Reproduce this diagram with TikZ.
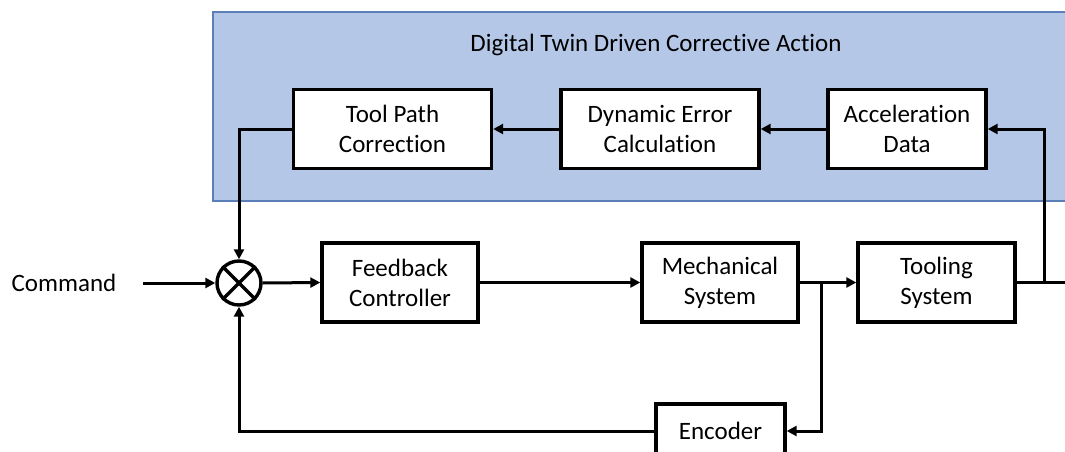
\documentclass[tikz,border=0pt]{standalone}
\usepackage{fontspec}
\setmainfont{Carlito}[Ligatures=NoCommon]
\usetikzlibrary{arrows.meta}
\definecolor{panelfill}{HTML}{B4C7E7}
\definecolor{paneledge}{HTML}{5B7FB8}
\begin{document}
\begin{tikzpicture}[x=1pt,y=-1pt,
  blk/.style={draw=black,line width=3.4pt,fill=white,inner sep=0pt,align=center,
    font=\fontsize{25}{30}\selectfont},
  conn/.style={line width=3pt},
  arr/.style={conn,-{Triangle[length=10pt,width=10pt]}},
  lbl/.style={font=\fontsize{25}{30}\selectfont,inner sep=0pt}]
\useasboundingbox (0,0) rectangle (1065,452);
\clip (0,0) rectangle (1065,452);

% corrective-action panel
\fill[panelfill,draw=paneledge,line width=1.2pt] (213,12) rectangle (1080,201);
\node[lbl] (title) at (656,45) {Digital Twin Driven Corrective Action};

% digital twin blocks
\node[blk,minimum width=198pt,minimum height=79pt] (tpc) at (392.5,129) {Tool Path\\Correction};
\node[blk,minimum width=198pt,minimum height=79pt] (dec) at (660,129) {Dynamic Error\\Calculation};
\node[blk,minimum width=158pt,minimum height=79pt] (acc) at (907,129) {Acceleration\\Data};

% main loop blocks
\node[lbl,anchor=center] (cmd) at (64,283) {Command};
\node[draw=black,line width=3.4pt,circle,minimum size=44pt,inner sep=0pt] (sum) at (239,283) {};
\draw[line width=3.2pt] (sum.north east) -- (sum.south west) (sum.north west) -- (sum.south east);
\node[blk,minimum width=156pt,minimum height=79pt] (fbc) at (400,282.5) {Feedback\\Controller};
\node[blk,minimum width=156pt,minimum height=79pt] (mech) at (720,282.5) {Mechanical\\System};
\node[blk,minimum width=157pt,minimum height=79pt] (tool) at (936.5,282.5) {Tooling\\System};
\node[blk,minimum width=129pt,minimum height=54pt] (enc) at (720.5,431) {Encoder};

% junction points
\coordinate (cin) at (143,283);
\coordinate (out) at (1075,282.5);
\coordinate (tapA) at (1044,282.5);
\coordinate (tapE) at (821,282.5);

% signal flow
\draw[arr] (cin) -- (sum.west);
\draw[arr] (sum.east) -- (fbc.west);
\draw[arr] (fbc.east) -- (mech.west);
\draw[arr] (mech.east) -- (tool.west);
\draw[conn] (tool.east) -- (out);
\draw[arr] (tapA) |- (acc.east);
\draw[arr] (acc.west) -- (dec.east);
\draw[arr] (dec.west) -- (tpc.east);
\draw[arr] (tpc.west) -| (sum.north);
\draw[arr] (tapE) |- (enc.east);
\draw[arr] (enc.west) -| (sum.south);
\end{tikzpicture}
\end{document}
